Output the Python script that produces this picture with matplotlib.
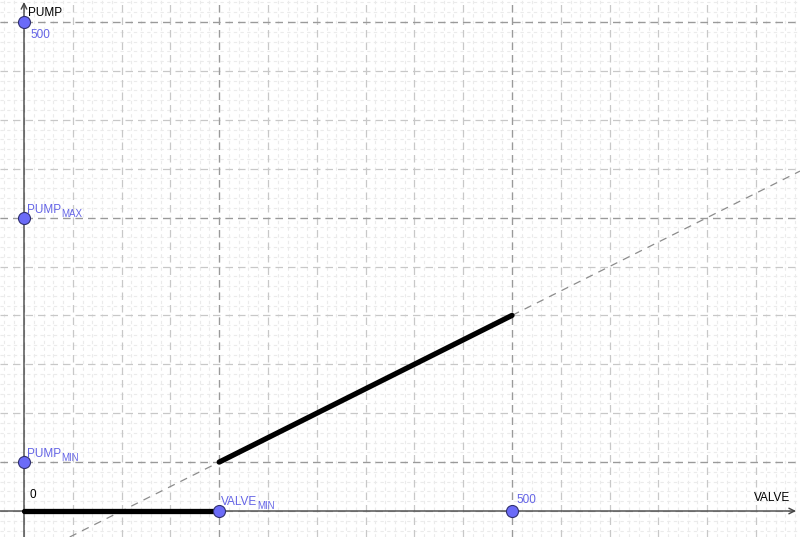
import numpy as np
import matplotlib.pyplot as plt
from matplotlib.transforms import offset_copy

plt.rcParams['font.family'] = ['Liberation Sans', 'DejaVu Sans']

# points on the axes
pt_x = [0, 0, 0, 200, 500]
pt_y = [500, 300, 50, 0, 0]
pt_labels = ['500', 'PUMP', 'PUMP', 'VALVE', '500']
pt_subs = ['', 'MAX', 'MIN', 'MIN', '']

# thick black segments
flat_x = [0, 200]
flat_y = [0, 0]
ramp_x = [200, 500]
ramp_y = [50, 200]

# dashed helper lines
guide_v = [200, 500]
guide_h = [50, 300, 500]

fig = plt.figure(figsize=(8, 5.37), dpi=100)
ax = fig.add_axes([0, 0, 1, 1])
sc = 488 / 500.0
ax.set_xlim(-24 / sc, 776 / sc)
ax.set_ylim(-26 / 0.978, 511 / 0.978)
ax.axis('off')

# minor grid
for v in np.arange(-20, 800, 10):
    if v % 50:
        ax.axvline(v, color='#ebebeb', lw=0.8, ls=(0, (3, 3)), zorder=0)
for v in np.arange(-20, 530, 10):
    if v % 50:
        ax.axhline(v, color='#ebebeb', lw=0.8, ls=(0, (3, 3)), zorder=0)
# major grid
for v in np.arange(-50, 800, 50):
    ax.axvline(v, color='#c8c8c8', lw=0.9, ls=(0, (6, 4)), zorder=1)
for v in np.arange(-50, 550, 50):
    ax.axhline(v, color='#c8c8c8', lw=0.9, ls=(0, (6, 4)), zorder=1)

for v in guide_v:
    ax.axvline(v, color='#9a9a9a', lw=0.9, ls=(0, (6, 4)), zorder=2)
for v in guide_h:
    ax.axhline(v, color='#9a9a9a', lw=0.9, ls=(0, (6, 4)), zorder=2)

# extended line through the ramp
ax.axline((ramp_x[0], ramp_y[0]), (ramp_x[1], ramp_y[1]), color='#8c8c8c',
          lw=0.9, ls=(0, (6, 5)), zorder=3)

# axes with arrows
ax.annotate('', xy=(772 / sc, 0), xytext=(-24 / sc, 0),
            arrowprops=dict(arrowstyle='->', color='#444444', lw=1,
                            shrinkA=0, shrinkB=0), zorder=4)
ax.annotate('', xy=(0, 509 / 0.978), xytext=(0, -26 / 0.978),
            arrowprops=dict(arrowstyle='->', color='#444444', lw=1,
                            shrinkA=0, shrinkB=0), zorder=4)
ax.text(766 / sc, 7, 'VALVE', ha='right', va='bottom', fontsize=8.5)
ax.text(4, 498 / 0.978, 'PUMP', ha='left', va='center', fontsize=8.5)
ax.annotate('0', (0, 0), xytext=(6, 10), textcoords='offset pixels',
            fontsize=8.5, ha='left', va='bottom')

ax.plot(flat_x, flat_y, color='black', lw=3.8, solid_capstyle='round', zorder=5)
ax.plot(ramp_x, ramp_y, color='black', lw=3.8, solid_capstyle='round', zorder=5)

ax.scatter(pt_x, pt_y, s=75, color='#6b6bf8', edgecolor='#303070',
           linewidth=0.8, zorder=6, clip_on=False)

lab_col = '#6464e6'
offs = [(6, -16), (3, 5), (3, 5), (2, 6), (4, 8)]
fig.canvas.draw()
r = fig.canvas.get_renderer()
for x, y, t, s, o in zip(pt_x, pt_y, pt_labels, pt_subs, offs):
    tr = offset_copy(ax.transData, fig=fig, x=o[0], y=o[1], units='dots')
    txt = ax.text(x, y, t, transform=tr, fontsize=8.5, color=lab_col,
                  ha='left', va='baseline')
    if s:
        w = txt.get_window_extent(r).width
        tr2 = offset_copy(ax.transData, fig=fig, x=o[0] + w, y=o[1] - 4,
                          units='dots')
        ax.text(x, y, s, transform=tr2, fontsize=7, color=lab_col,
                ha='left', va='baseline')

fig.savefig('out.png', dpi=100)
